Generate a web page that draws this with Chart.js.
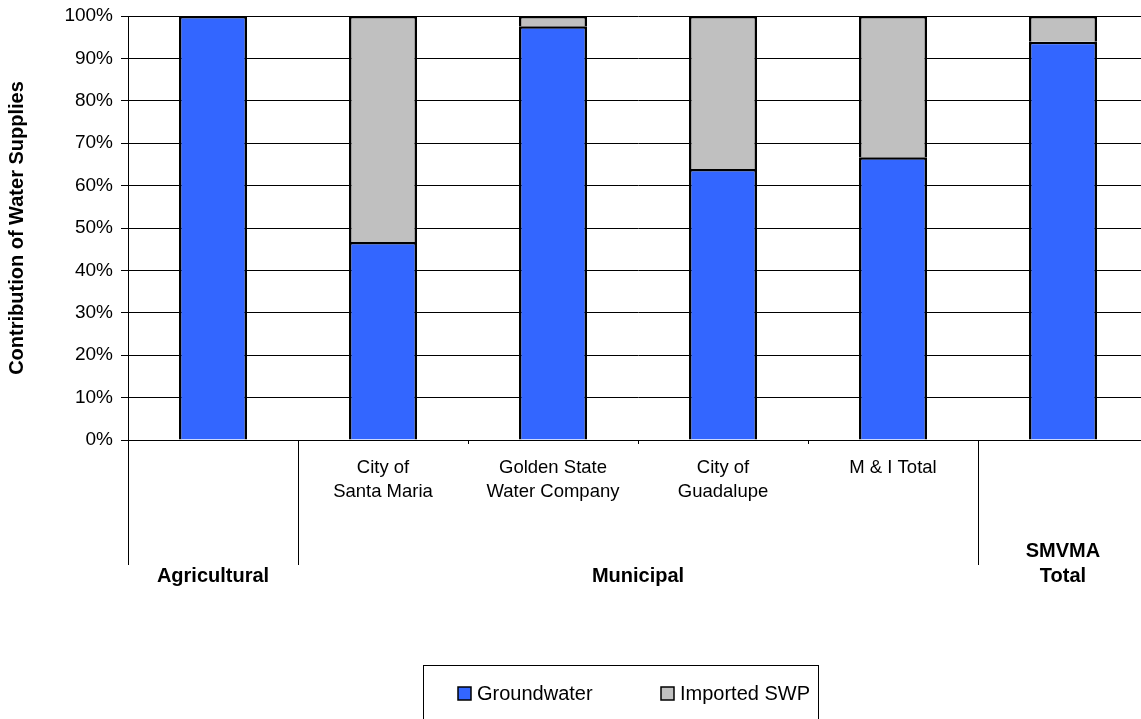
<!DOCTYPE html>
<html>
<head>
<meta charset="utf-8">
<script src="https://cdn.jsdelivr.net/npm/chart.js@4.4.1/dist/chart.umd.min.js"></script>
<style>
  html, body { margin: 0; padding: 0; overflow: hidden; background: #fff; }
  #wrap { width: 1150px; height: 719px; }
</style>
</head>
<body>
<div id="wrap"><canvas id="c" width="1150" height="719"></canvas></div>
<script>
// Water supply sources by user type (percent of total supply)
const categories = [
  [""],
  ["City of", "Santa Maria"],
  ["Golden State", "Water Company"],
  ["City of", "Guadalupe"],
  ["M & I Total"],
  [""]
];
const groundwater = [100, 46.7, 97.6, 63.9, 66.7, 93.9];
const importedSWP = [0, 53.3, 2.4, 36.1, 33.3, 6.1];
const groupNames = [["Agricultural"], ["Municipal"], ["SMVMA", "Total"]];
const groupFirst = [0, 1, 5];
const groupLast = [0, 4, 5];
const yMin = 0, yMax = 100, yStep = 10;
const yTitle = "Contribution of Water Supplies";

const FAMILY = "'Liberation Sans', Arial, sans-serif";

// Category labels, group labels, group separators and the boxed legend
const axisDecor = {
  id: 'axisDecor',
  afterDraw(chart) {
    const ctx = chart.ctx;
    const x = chart.scales.x;
    const area = chart.chartArea;
    const px = i => x.getPixelForValue(i);
    const n = categories.length;
    ctx.save();

    // boundaries between categories
    const bounds = [];
    for (let i = 0; i <= n; i++) {
      if (i === 0) bounds.push(area.left);
      else if (i === n) bounds.push(area.right);
      else bounds.push((px(i - 1) + px(i)) / 2);
    }
    const groupEdges = new Set([0]);
    groupFirst.forEach(f => groupEdges.add(f));
    groupLast.forEach(l => groupEdges.add(l + 1));
    ctx.strokeStyle = '#000';
    ctx.lineWidth = 1;
    for (let i = 0; i < n; i++) {
      const bx = Math.round(bounds[i]) + 0.5;
      const len = groupEdges.has(i) ? 125 : 4;
      ctx.beginPath();
      ctx.moveTo(bx, area.bottom);
      ctx.lineTo(bx, area.bottom + len);
      ctx.stroke();
    }

    // category labels
    ctx.fillStyle = '#000';
    ctx.textAlign = 'center';
    ctx.textBaseline = 'middle';
    ctx.font = '18.5px ' + FAMILY;
    categories.forEach((lines, i) => {
      lines.forEach((t, k) => {
        ctx.fillText(t, px(i), area.bottom + 28 + k * 24);
      });
    });

    // group labels (bottom-aligned)
    ctx.font = 'bold 20px ' + FAMILY;
    groupNames.forEach((lines, g) => {
      const cx = (px(groupFirst[g]) + px(groupLast[g])) / 2;
      const m = lines.length;
      lines.forEach((t, k) => {
        ctx.fillText(t, cx, area.bottom + 136 - (m - 1 - k) * 25);
      });
    });

    // legend box
    const lx = 423, ly = 665, lw = 395, lh = 80;
    ctx.strokeStyle = '#000';
    ctx.lineWidth = 1;
    ctx.strokeRect(lx + 0.5, ly + 0.5, lw, lh);
    ctx.font = '20px ' + FAMILY;
    ctx.textAlign = 'left';
    const itemX = [458, 661];
    chart.data.datasets.forEach((ds, i) => {
      const sx = itemX[i];
      ctx.fillStyle = ds.backgroundColor;
      ctx.fillRect(sx, 687, 13, 13);
      ctx.strokeStyle = '#000';
      ctx.lineWidth = 1.5;
      ctx.strokeRect(sx, 687, 13, 13);
      ctx.fillStyle = '#000';
      ctx.fillText(ds.label, sx + 19, 694);
    });
    ctx.restore();
  }
};

new Chart(document.getElementById('c'), {
  type: 'bar',
  data: {
    labels: categories.map(c => c.join(' ')),
    datasets: [
      {
        label: 'Groundwater',
        data: groundwater,
        backgroundColor: '#3366FF',
        borderColor: '#000',
        borderWidth: 2.5,
        barPercentage: 0.8,
        categoryPercentage: 0.5
      },
      {
        label: 'Imported SWP',
        data: importedSWP,
        backgroundColor: '#C0C0C0',
        borderColor: '#000',
        borderWidth: 2.5,
        barPercentage: 0.8,
        categoryPercentage: 0.5
      }
    ]
  },
  options: {
    responsive: false,
    animation: false,
    layout: { padding: { top: 16, right: 2, left: 0, bottom: 0 } },
    plugins: {
      legend: { display: false },
      tooltip: { enabled: false }
    },
    scales: {
      x: {
        stacked: true,
        ticks: { display: false },
        grid: { display: false },
        border: { display: true, color: '#000', width: 1 },
        afterFit: s => { s.height = 279; }
      },
      y: {
        stacked: true,
        min: yMin,
        max: yMax,
        ticks: {
          stepSize: yStep,
          padding: 8,
          color: '#000',
          font: { family: FAMILY, size: 19 },
          callback: v => v + '%'
        },
        grid: { color: '#000', lineWidth: 1, tickLength: 7 },
        border: { display: true, color: '#000', width: 1 },
        title: {
          display: true,
          text: yTitle,
          color: '#000',
          font: { family: FAMILY, size: 20, weight: 'bold' },
          padding: { top: 5, bottom: 0 }
        },
        afterFit: s => { s.width = 128; s.paddingTop = 0; s.paddingBottom = 0; }
      }
    }
  },
  plugins: [axisDecor]
});
</script>
</body>
</html>
